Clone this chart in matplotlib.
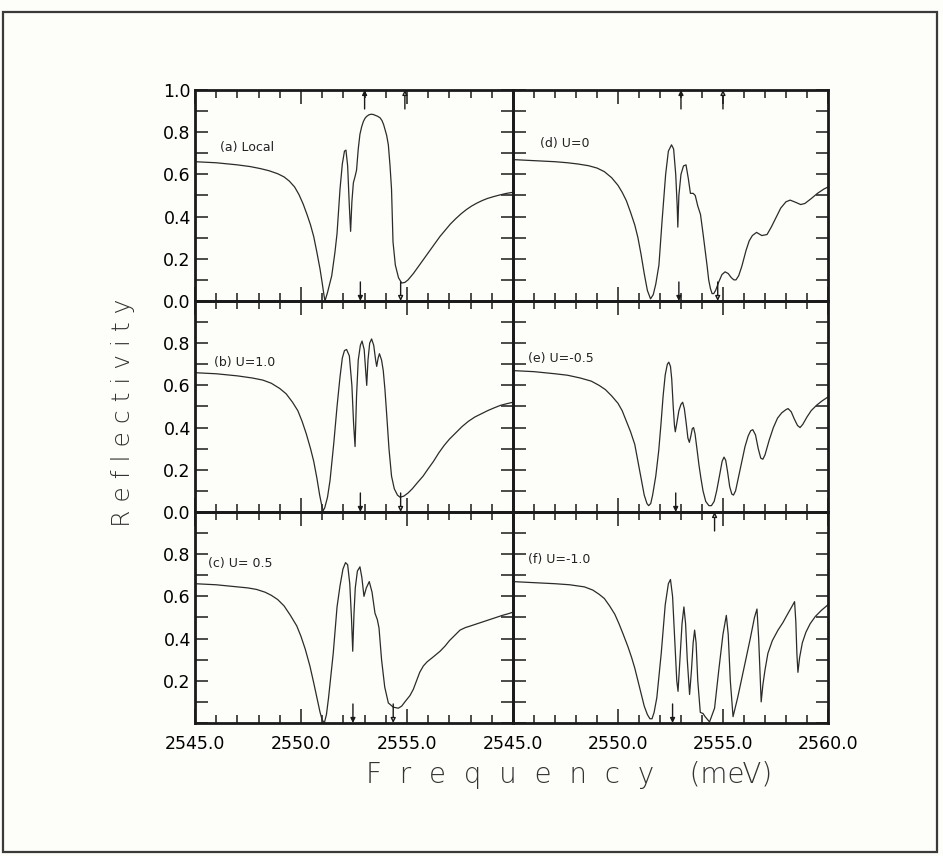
import matplotlib
matplotlib.use('Agg')
import matplotlib.pyplot as plt
from matplotlib.ticker import MultipleLocator, FixedLocator, FormatStrFormatter
from matplotlib.patches import Rectangle

# frequency (meV) and reflectivity
freq_a = [2545.0, 2546.0, 2547.0, 2547.6, 2548.1, 2548.5, 2548.9, 2549.2, 2549.45, 2549.7,
          2549.9, 2550.1, 2550.3, 2550.45, 2550.6, 2550.75, 2550.9, 2551.0, 2551.08, 2551.13,
          2551.25, 2551.45, 2551.6, 2551.7, 2551.84, 2551.95, 2552.05, 2552.12, 2552.2, 2552.28,
          2552.34, 2552.4, 2552.47, 2552.55, 2552.62, 2552.7, 2552.78, 2552.86, 2552.94, 2553.02,
          2553.1, 2553.2, 2553.3, 2553.4, 2553.5, 2553.62, 2553.73, 2553.82, 2553.9, 2553.97,
          2554.04, 2554.12, 2554.2, 2554.27, 2554.34, 2554.45, 2554.6, 2554.75, 2554.9, 2555.05,
          2555.3, 2555.55, 2555.8, 2556.05, 2556.3, 2556.55, 2556.8, 2557.05, 2557.3, 2557.55,
          2557.8, 2558.05, 2558.3, 2558.55, 2558.8, 2559.1, 2559.4, 2559.7, 2560.0]
refl_a = [0.66, 0.655, 0.645, 0.637, 0.627, 0.617, 0.603, 0.588, 0.568, 0.54,
          0.505, 0.46, 0.405, 0.36, 0.305, 0.23, 0.15, 0.085, 0.03, 0.0,
          0.04, 0.12, 0.23, 0.32, 0.53, 0.65, 0.71, 0.715, 0.64, 0.45,
          0.33, 0.47, 0.56, 0.59, 0.62, 0.72, 0.79, 0.825, 0.85, 0.866,
          0.875, 0.882, 0.885, 0.884, 0.88, 0.875, 0.868, 0.855, 0.835, 0.81,
          0.785, 0.74, 0.64, 0.53, 0.28, 0.17, 0.11, 0.085, 0.088, 0.10,
          0.13, 0.165, 0.20, 0.235, 0.27, 0.305, 0.335, 0.365, 0.39, 0.413,
          0.433, 0.45, 0.464, 0.476, 0.486, 0.495, 0.503, 0.51, 0.515]

freq_b = [2545.0, 2546.0, 2547.0, 2547.7, 2548.2, 2548.6, 2549.0, 2549.3, 2549.6, 2549.85,
          2550.05, 2550.25, 2550.45, 2550.6, 2550.75, 2550.88, 2550.98, 2551.04, 2551.12, 2551.25,
          2551.37, 2551.55, 2551.7, 2551.84, 2551.95, 2552.05, 2552.15, 2552.28, 2552.4, 2552.48,
          2552.55, 2552.62, 2552.7, 2552.8, 2552.88, 2552.98, 2553.05, 2553.1, 2553.16, 2553.24,
          2553.33, 2553.43, 2553.52, 2553.57, 2553.64, 2553.7, 2553.8, 2553.88, 2553.96, 2554.05,
          2554.15, 2554.27, 2554.4, 2554.55, 2554.67, 2554.85, 2555.05, 2555.25, 2555.5, 2555.76,
          2556.0, 2556.25, 2556.5, 2556.75, 2557.0, 2557.3, 2557.6, 2557.9, 2558.2, 2558.5,
          2558.8, 2559.1, 2559.4, 2559.7, 2560.0]
refl_b = [0.66, 0.655, 0.645, 0.635, 0.625, 0.61, 0.585, 0.56, 0.52, 0.48,
          0.43, 0.37, 0.30, 0.24, 0.16, 0.08, 0.03, 0.005, 0.02, 0.07,
          0.15, 0.33, 0.50, 0.64, 0.73, 0.765, 0.77, 0.74, 0.60, 0.42,
          0.31, 0.55, 0.72, 0.79, 0.81, 0.77, 0.67, 0.60, 0.72, 0.80,
          0.82, 0.79, 0.72, 0.69, 0.73, 0.75, 0.72, 0.67, 0.58, 0.45,
          0.30, 0.17, 0.11, 0.08, 0.07, 0.075, 0.09, 0.11, 0.14, 0.17,
          0.205, 0.24, 0.28, 0.315, 0.345, 0.375, 0.405, 0.43, 0.45, 0.465,
          0.48, 0.493, 0.505, 0.513, 0.52]

freq_c = [2545.0, 2546.0, 2547.0, 2547.5, 2547.9, 2548.3, 2548.6, 2548.9, 2549.2, 2549.5,
          2549.8, 2550.0, 2550.2, 2550.42, 2550.6, 2550.75, 2550.9, 2551.0, 2551.1, 2551.2,
          2551.3, 2551.52, 2551.7, 2551.84, 2551.98, 2552.1, 2552.2, 2552.3, 2552.38, 2552.44,
          2552.5, 2552.56, 2552.66, 2552.78, 2552.87, 2552.97, 2553.08, 2553.22, 2553.35, 2553.49,
          2553.6, 2553.68, 2553.8, 2553.95, 2554.12, 2554.35, 2554.59, 2554.75, 2554.9, 2555.14,
          2555.3, 2555.45, 2555.6, 2555.77, 2555.95, 2556.2, 2556.56, 2556.8, 2557.0, 2557.25,
          2557.5, 2557.75, 2558.0, 2558.3, 2558.6, 2558.9, 2559.2, 2559.5, 2559.75, 2560.0]
refl_c = [0.66, 0.655, 0.645, 0.64, 0.633, 0.62, 0.605, 0.585, 0.555, 0.51,
          0.46, 0.41, 0.35, 0.27, 0.19, 0.12, 0.05, 0.015, 0.0, 0.04,
          0.12, 0.33, 0.55, 0.65, 0.73, 0.76, 0.75, 0.66, 0.50, 0.34,
          0.52, 0.64, 0.72, 0.74, 0.69, 0.60, 0.64, 0.67, 0.62, 0.52,
          0.49, 0.45, 0.30, 0.17, 0.095, 0.075, 0.07, 0.08, 0.10, 0.13,
          0.16, 0.20, 0.24, 0.27, 0.29, 0.31, 0.34, 0.365, 0.39, 0.415,
          0.44, 0.452, 0.46, 0.47, 0.48, 0.49, 0.50, 0.51, 0.517, 0.525]

freq_d = [2545.0, 2546.0, 2547.0, 2547.6, 2548.1, 2548.6, 2549.0, 2549.35, 2549.7, 2550.0,
          2550.2, 2550.4, 2550.6, 2550.8, 2550.95, 2551.1, 2551.25, 2551.4, 2551.55, 2551.68,
          2551.8, 2551.95, 2552.1, 2552.27, 2552.4, 2552.55, 2552.65, 2552.75, 2552.82, 2552.85,
          2552.9, 2553.0, 2553.12, 2553.24, 2553.35, 2553.45, 2553.58, 2553.68, 2553.8, 2553.93,
          2554.05, 2554.24, 2554.32, 2554.4, 2554.48, 2554.56, 2554.65, 2554.8, 2554.95, 2555.1,
          2555.25, 2555.4, 2555.52, 2555.62, 2555.75, 2555.9, 2556.1, 2556.25, 2556.4, 2556.6,
          2556.85, 2557.1, 2557.3, 2557.5, 2557.75, 2558.0, 2558.2, 2558.45, 2558.7, 2558.9,
          2559.2, 2559.5, 2559.8, 2560.0]
refl_d = [0.67, 0.665, 0.66, 0.655, 0.649, 0.641, 0.63, 0.613, 0.584, 0.548,
          0.515, 0.475, 0.42, 0.36, 0.30, 0.22, 0.13, 0.05, 0.01, 0.03,
          0.08, 0.17, 0.38, 0.60, 0.71, 0.74, 0.72, 0.60, 0.45, 0.35,
          0.50, 0.60, 0.64, 0.645, 0.58, 0.51, 0.51, 0.50, 0.45, 0.41,
          0.32, 0.17, 0.10, 0.06, 0.035, 0.035, 0.05, 0.09, 0.125, 0.138,
          0.13, 0.11, 0.10, 0.10, 0.12, 0.165, 0.24, 0.285, 0.31, 0.325,
          0.31, 0.315, 0.35, 0.39, 0.44, 0.47, 0.478, 0.468, 0.457, 0.462,
          0.485, 0.51, 0.53, 0.54]

freq_e = [2545.0, 2546.0, 2547.0, 2547.6, 2548.2, 2548.73, 2549.1, 2549.4, 2549.7, 2550.0,
          2550.2, 2550.4, 2550.6, 2550.8, 2550.95, 2551.1, 2551.25, 2551.38, 2551.46, 2551.56,
          2551.65, 2551.8, 2551.94, 2552.05, 2552.15, 2552.25, 2552.35, 2552.42, 2552.5, 2552.56,
          2552.63, 2552.69, 2552.73, 2552.8, 2552.9, 2553.0, 2553.08, 2553.16, 2553.25, 2553.33,
          2553.4, 2553.47, 2553.54, 2553.6, 2553.67, 2553.76, 2553.86, 2553.95, 2554.05, 2554.18,
          2554.33, 2554.45, 2554.58, 2554.7, 2554.85, 2554.96, 2555.05, 2555.13, 2555.22, 2555.32,
          2555.42, 2555.5, 2555.6, 2555.75, 2555.9, 2556.05, 2556.2, 2556.32, 2556.42, 2556.55,
          2556.68, 2556.8, 2556.9, 2557.0, 2557.2, 2557.4, 2557.6, 2557.8, 2558.0, 2558.1,
          2558.25, 2558.4, 2558.55, 2558.67, 2558.8, 2559.0, 2559.2, 2559.45, 2559.7, 2560.0]
refl_e = [0.67, 0.665, 0.655, 0.648, 0.635, 0.62, 0.60, 0.58, 0.55, 0.515,
          0.48, 0.43, 0.38, 0.32, 0.24, 0.16, 0.08, 0.04, 0.03, 0.04,
          0.08, 0.17, 0.29, 0.42, 0.55, 0.65, 0.70, 0.71, 0.69, 0.63,
          0.50, 0.41, 0.38, 0.42, 0.48, 0.51, 0.52, 0.49, 0.42, 0.35,
          0.33, 0.36, 0.395, 0.40, 0.37, 0.30, 0.22, 0.16, 0.10, 0.05,
          0.03, 0.03, 0.05, 0.10, 0.18, 0.24, 0.26, 0.245, 0.19, 0.12,
          0.085, 0.08, 0.10, 0.17, 0.24, 0.31, 0.36, 0.385, 0.39, 0.365,
          0.30, 0.255, 0.25, 0.27, 0.34, 0.40, 0.445, 0.47, 0.485, 0.49,
          0.475, 0.44, 0.41, 0.40, 0.415, 0.45, 0.48, 0.505, 0.525, 0.545]

freq_f = [2545.0, 2546.0, 2547.0, 2547.7, 2548.4, 2548.8, 2549.1, 2549.35, 2549.6, 2549.85,
          2550.05, 2550.25, 2550.48, 2550.65, 2550.8, 2550.95, 2551.1, 2551.25, 2551.4, 2551.52,
          2551.62, 2551.72, 2551.85, 2552.06, 2552.25, 2552.4, 2552.5, 2552.6, 2552.7, 2552.8,
          2552.86, 2552.95, 2553.05, 2553.14, 2553.22, 2553.3, 2553.41, 2553.5, 2553.58, 2553.65,
          2553.72, 2553.8, 2553.92, 2554.05, 2554.15, 2554.36, 2554.6, 2554.8, 2555.0, 2555.16,
          2555.25, 2555.35, 2555.48, 2555.7, 2556.0, 2556.3, 2556.5, 2556.62, 2556.7, 2556.82,
          2556.9, 2557.0, 2557.14, 2557.35, 2557.62, 2557.85, 2558.1, 2558.3, 2558.41, 2558.47,
          2558.52, 2558.57, 2558.65, 2558.78, 2558.95, 2559.15, 2559.4, 2559.7, 2560.0]
refl_f = [0.67, 0.665, 0.66, 0.655, 0.645, 0.63, 0.61, 0.59, 0.555, 0.515,
          0.47, 0.42, 0.36, 0.31, 0.26, 0.20, 0.14, 0.08, 0.04, 0.02,
          0.02, 0.05, 0.12, 0.33, 0.56, 0.66, 0.68, 0.60, 0.40, 0.20,
          0.15, 0.30, 0.47, 0.55, 0.47, 0.30, 0.135, 0.25, 0.38, 0.44,
          0.38, 0.20, 0.05, 0.045, 0.03, 0.005, 0.07, 0.25, 0.42, 0.51,
          0.42, 0.20, 0.03, 0.12, 0.26, 0.40, 0.50, 0.54, 0.40, 0.10,
          0.18, 0.25, 0.33, 0.39, 0.44, 0.475, 0.52, 0.555, 0.575, 0.48,
          0.33, 0.24, 0.31, 0.38, 0.43, 0.47, 0.505, 0.535, 0.56]

panel_labels = ['(a) Local', '(b) U=1.0', '(c) U= 0.5', '(d) U=0', '(e) U=-0.5', '(f) U=-1.0']

# arrow marks on the frequency axes: (frequency, filled, edge)
marks_a = [(2552.8, True, 'bottom'), (2554.7, False, 'bottom'), (2553.0, True, 'top'), (2554.9, False, 'top')]
marks_b = [(2552.8, True, 'bottom'), (2554.7, False, 'bottom')]
marks_c = [(2552.45, True, 'bottom'), (2554.35, False, 'bottom')]
marks_d = [(2552.9, True, 'bottom'), (2554.75, False, 'bottom'), (2553.0, True, 'top'), (2555.0, False, 'top')]
marks_e = [(2552.75, True, 'bottom'), (2554.6, False, 'below')]
marks_f = [(2552.6, True, 'bottom')]

y_labels_rows = [[0.0, 0.2, 0.4, 0.6, 0.8, 1.0],
                 [0.0, 0.2, 0.4, 0.6, 0.8],
                 [0.2, 0.4, 0.6, 0.8]]
x_labels_left = [2545.0, 2550.0, 2555.0]
x_labels_right = [2545.0, 2550.0, 2555.0, 2560.0]

freqs = [freq_a, freq_b, freq_c, freq_d, freq_e, freq_f]
refls = [refl_a, refl_b, refl_c, refl_d, refl_e, refl_f]
marks = [marks_a, marks_b, marks_c, marks_d, marks_e, marks_f]

fig = plt.figure(figsize=(9.43, 8.56), dpi=100)
fig.patch.set_facecolor('#fdfdf9')

col_x = [0.2068, 0.544]
col_w = [0.3372, 0.334]
row_y = [0.6484, 0.4019, 0.1554]
row_h = 0.2465
lab_xy = [(2546.2, 0.71), (2545.9, 0.69), (2545.6, 0.74), (2546.3, 0.73), (2545.7, 0.71), (2545.7, 0.76)]

for i in range(6):
    col = i // 3
    row = i % 3
    ax = fig.add_axes([col_x[col], row_y[row], col_w[col], row_h])
    ax.set_facecolor('none')
    ax.plot(freqs[i], refls[i], color='#2b2b2b', lw=0.9)
    ax.set_xlim(2545, 2560)
    ax.set_ylim(0, 1)

    if col == 0:
        ax.xaxis.set_major_locator(FixedLocator(x_labels_left))
    else:
        ax.xaxis.set_major_locator(FixedLocator(x_labels_right))
    ax.xaxis.set_minor_locator(MultipleLocator(1))
    ax.yaxis.set_major_locator(FixedLocator(y_labels_rows[row]))
    ax.yaxis.set_minor_locator(MultipleLocator(0.1))
    ax.xaxis.set_major_formatter(FormatStrFormatter('%.1f'))
    ax.yaxis.set_major_formatter(FormatStrFormatter('%.1f'))

    ax.tick_params(which='both', direction='in', top=True, right=True, width=1.1,
                   labelleft=(col == 0), labelbottom=(row == 2), labelsize=12.5, color='#1a1a1a')
    ax.tick_params(axis='x', which='major', length=10, pad=9)
    ax.tick_params(axis='x', which='minor', length=6)
    ax.tick_params(axis='y', which='both', length=9, pad=3)
    for sp in ax.spines.values():
        sp.set_linewidth(2.0)
        sp.set_color('#1a1a1a')

    ax.text(lab_xy[i][0], lab_xy[i][1], panel_labels[i], fontsize=9, color='#222222')

    for f, filled, edge in marks[i]:
        fc = '#1a1a1a' if filled else 'white'
        if edge == 'bottom':
            p0, p1 = (f, 0.09), (f, 0.0)
        elif edge == 'top':
            p0, p1 = (f, 0.91), (f, 1.0)
        else:
            p0, p1 = (f, -0.09), (f, 0.0)
        ax.annotate('', xy=p1, xytext=p0, annotation_clip=False,
                    arrowprops=dict(arrowstyle='-|>', mutation_scale=7, lw=1.0,
                                    fc=fc, ec='#1a1a1a', shrinkA=0, shrinkB=0))

fig.text(0.130, 0.518, 'R e f l e c t i v i t y', rotation=90, fontsize=18,
         ha='center', va='center', color='#333333', fontweight='light')
fig.text(0.603, 0.0946, 'F  r  e  q  u  e  n  c  y    (meV)', fontsize=20,
         ha='center', va='center', color='#333333', fontweight='light')

fig.add_artist(Rectangle((0.0032, 0.0047), 0.9904, 0.9813, transform=fig.transFigure,
                         fill=False, lw=1.6, ec='#3a3a3a'))

fig.savefig('out.png', dpi=100, facecolor=fig.get_facecolor())
